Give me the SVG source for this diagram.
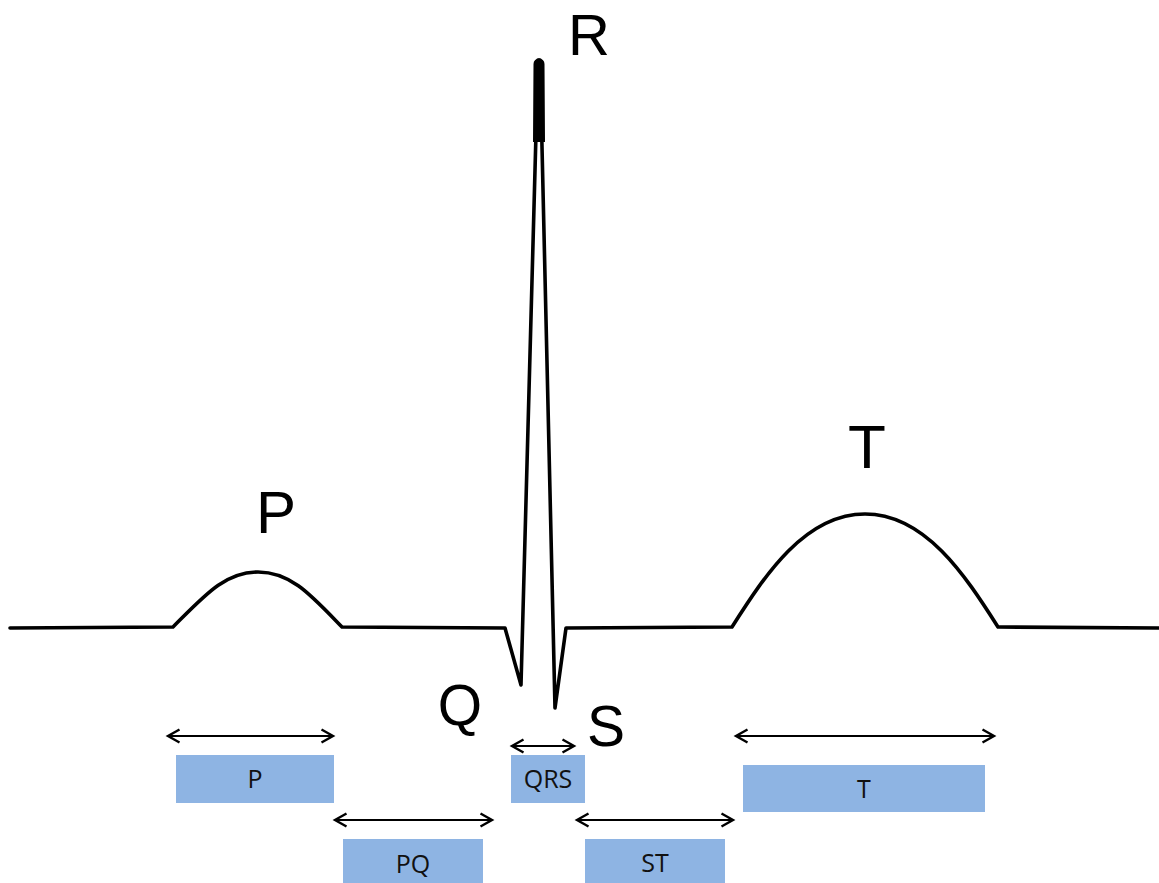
<svg xmlns="http://www.w3.org/2000/svg" width="1159" height="883" viewBox="0 0 1159 883">
<style>
.wave{fill:none;stroke:#000;stroke-width:3.6;stroke-linejoin:round;stroke-linecap:round}
.big{font-family:"Liberation Sans",Arial,sans-serif;fill:#000}
.box{fill:#8EB4E3}
.lbl{font-family:"Open Sans","Liberation Sans",sans-serif;font-size:25px;fill:#111;text-anchor:middle}
.arr{stroke:#000;stroke-width:2.2;fill:none;marker-start:url(#ah);marker-end:url(#ah)}
</style>
<defs>
<marker id="ah" viewBox="0 0 16 16" refX="13" refY="8" markerWidth="16" markerHeight="16" markerUnits="userSpaceOnUse" orient="auto-start-reverse">
<path d="M1.5,1.5 L13,8 L1.5,14.5" fill="none" stroke="#000" stroke-width="2.4"/>
</marker>
</defs>
<rect width="1159" height="883" fill="#fff"/>
<g id="ecg">
<path class="wave" d="M10,628 L173,627 C205,595 225,572 258,572 C291,572 311,595 342,627 L505,628 L521,685 L538,60 L540,60 L555,708 L566,628 L732,627 C765,575 805,514 865,514 C925,514 965,575 998,627 L1159,628"/>
<path d="M533,142 L533.5,64 A5.5,5.5 0 0 1 544.5,64 L545,142 Z" fill="#000"/>
</g>
<g id="label-R"><text class="big" x="568" y="55" font-size="58">R</text></g>
<g id="label-P"><text class="big" x="256" y="533" font-size="60">P</text></g>
<g id="label-T"><text class="big" x="867" y="468" font-size="62" text-anchor="middle">T</text></g>
<g id="label-Q"><text class="big" x="460" y="725" font-size="57" text-anchor="middle">Q</text></g>
<g id="label-S"><text class="big" x="606" y="746" font-size="57" text-anchor="middle">S</text></g>
<g id="connectors">
<line class="arr" x1="168" y1="736" x2="333" y2="736"/>
<line class="arr" x1="335" y1="820" x2="492" y2="820"/>
<line class="arr" x1="512" y1="746" x2="574" y2="746"/>
<line class="arr" x1="577" y1="820" x2="733" y2="820"/>
<line class="arr" x1="736" y1="736" x2="994" y2="736"/>
</g>
<g id="box-P"><rect class="box" x="176" y="755" width="158" height="48"/><text class="lbl" x="255" y="788">P</text></g>
<g id="box-QRS"><rect class="box" x="511" y="755" width="74" height="48"/><text class="lbl" x="548" y="788">QRS</text></g>
<g id="box-T"><rect class="box" x="743" y="765" width="242" height="47"/><text class="lbl" x="864" y="798">T</text></g>
<g id="box-PQ"><rect class="box" x="343" y="839" width="140" height="44"/><text class="lbl" x="413" y="873">PQ</text></g>
<g id="box-ST"><rect class="box" x="585" y="839" width="140" height="44"/><text class="lbl" x="655" y="872">ST</text></g>
</svg>
